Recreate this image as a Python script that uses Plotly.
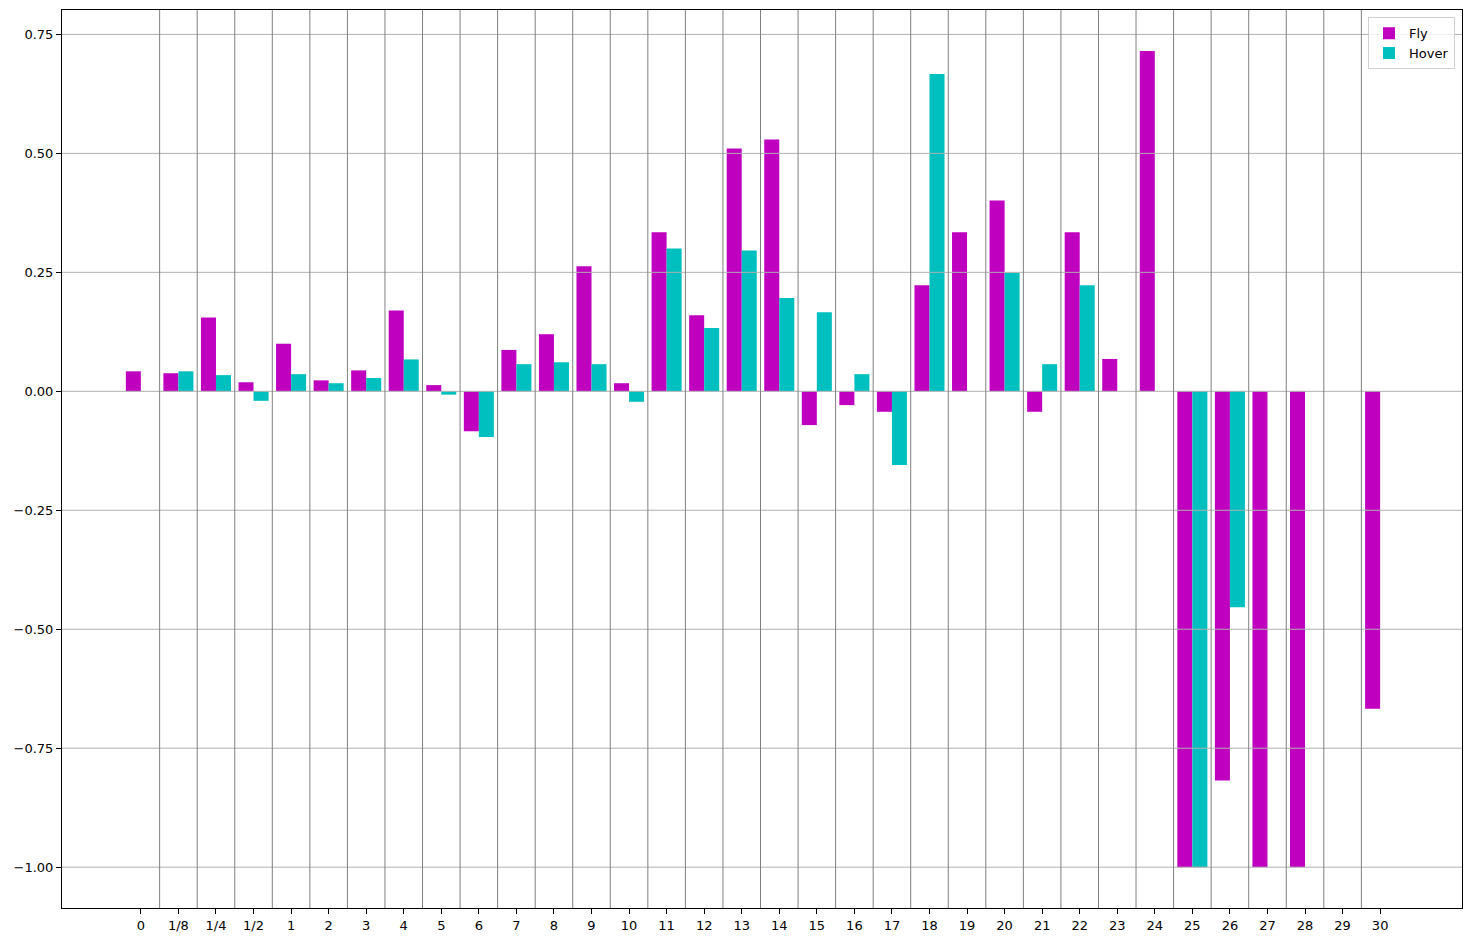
import plotly.graph_objects as go

categories = ["0", "1/8", "1/4", "1/2"] + [str(i) for i in range(1, 31)]
fly = [0.042, 0.038, 0.155, 0.019, 0.100, 0.023, 0.044, 0.170, 0.013, -0.084,
       0.087, 0.120, 0.263, 0.017, 0.334, 0.160, 0.510, 0.529, -0.071, -0.029,
       -0.043, 0.223, 0.334, 0.401, -0.043, 0.334, 0.068, 0.715, -1.0, -0.818,
       -1.0, -1.0, 0.0, -0.667]
hover = [0.0, 0.042, 0.034, -0.020, 0.036, 0.017, 0.028, 0.067, -0.007, -0.096,
         0.057, 0.061, 0.057, -0.022, 0.300, 0.133, 0.296, 0.196, 0.166, 0.036,
         -0.155, 0.667, 0.0, 0.249, 0.057, 0.223, 0.0, 0.0, -1.0, -0.454,
         0.0, 0.0, 0.0, 0.0]
y_ticks = [-1.0, -0.75, -0.5, -0.25, 0.0, 0.25, 0.5, 0.75]
y_tick_text = ["\u22121.00", "\u22120.75", "\u22120.50", "\u22120.25", "0.00", "0.25", "0.50", "0.75"]

xs = list(range(len(categories)))

fig = go.Figure()
fig.add_trace(go.Bar(x=xs, y=fly, width=0.4, offset=-0.4, name="Fly",
                     marker=dict(color="#bf00bf", line=dict(width=0))))
fig.add_trace(go.Bar(x=xs, y=hover, width=0.4, offset=0.0, name="Hover",
                     marker=dict(color="#00bfbf", line=dict(width=0))))

shapes = []
for yv in y_ticks:
    shapes.append(dict(type="line", xref="paper", yref="y", x0=0, x1=1, y0=yv, y1=yv,
                       line=dict(color="#b0b0b0", width=1), layer="above"))
for k in xs[:-1]:
    shapes.append(dict(type="line", xref="x", yref="paper", x0=k + 0.5, x1=k + 0.5, y0=0, y1=1,
                       line=dict(color="#808080", width=1), layer="above"))

fig.update_layout(
    width=1464, height=935,
    margin=dict(l=54, r=10, t=2, b=35, autoexpand=False),
    plot_bgcolor="white", paper_bgcolor="white",
    barmode="overlay",
    font=dict(family="DejaVu Sans", size=13, color="black"),
    shapes=shapes,
    showlegend=True,
    legend=dict(x=0.995, y=0.992, xanchor="right", yanchor="top",
                bgcolor="rgba(255,255,255,0.8)", bordercolor="#d0d0d0", borderwidth=1,
                font=dict(size=13), tracegroupgap=0),
)
fig.update_xaxes(range=[-2.1, 35.18], tickmode="array", tickvals=xs, ticktext=categories,
                 showgrid=False, zeroline=False, showline=True, mirror=True, automargin=False,
                 linecolor="black", linewidth=1, ticks="outside", ticklen=5, tickcolor="black",
                 tickfont=dict(size=13))
fig.update_yaxes(range=[-1.0858, 0.8013], tickmode="array", tickvals=y_ticks, ticktext=y_tick_text,
                 showgrid=False, zeroline=False, showline=True, mirror=True, automargin=False,
                 linecolor="black", linewidth=1, ticks="outside", ticklen=5, tickcolor="black",
                 tickfont=dict(size=13))

fig.write_html("out.html")
